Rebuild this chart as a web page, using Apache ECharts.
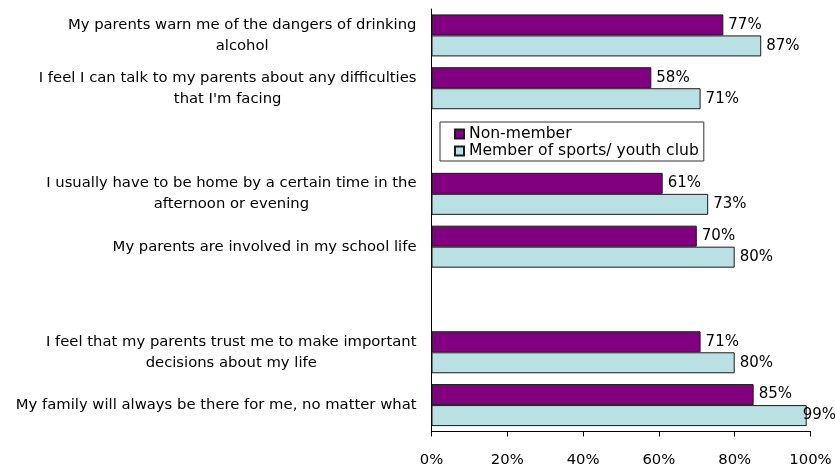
<!DOCTYPE html>
<html>
<head>
<meta charset="utf-8">
<script src="https://cdn.jsdelivr.net/npm/echarts@6/dist/echarts.min.js"></script>
<style>
  html, body { margin: 0; padding: 0; background: #fff; }
  #main { width: 835px; height: 469px; }
</style>
</head>
<body>
<div id="main"></div>
<script>
// statements, top to bottom (blank names are the empty gaps)
const categories = [
  'My parents warn me of the dangers of drinking\nalcohol',
  'I feel I can talk to my parents about any difficulties\nthat I\'m facing',
  ' ',
  'I usually have to be home by a certain time in the\nafternoon or evening',
  'My parents are involved in my school life',
  '  ',
  'I feel that my parents trust me to make important\ndecisions about my life',
  'My family will always be there for me, no matter what'
]
const nonMember = [77, 58, '-', 61, 70, '-', 71, 85]
const member = [87, 71, '-', 73, 80, '-', 80, 99]
const xTicks = [0, 20, 40, 60, 80, 100]

const font = 'DejaVu Sans'

// the 99% label sits pulled back over the bar end
function withLabels(arr) {
  return arr.map((v) => {
    if (v !== '-' && v > 95) {
      return { value: v, label: { offset: [-9, 0] } }
    }
    return v
  })
}

const chart = echarts.init(document.getElementById('main'))

const option = {
  animation: false,
  backgroundColor: '#fff',
  grid: {
    left: 431.5,
    right: 24.5,
    top: 9,
    bottom: 37.5
  },
  legend: {
    orient: 'vertical',
    left: 440,
    top: 122,
    padding: [4, 5, 2, 14],
    itemWidth: 9,
    itemHeight: 9,
    itemGap: 1,
    icon: 'rect',
    borderColor: '#333',
    borderWidth: 1,
    textStyle: { fontFamily: font, fontSize: 15.6, color: '#000', lineHeight: 16 },
    data: ['Non-member', 'Member of sports/ youth club']
  },
  xAxis: {
    type: 'value',
    min: 0,
    max: 100,
    interval: 20,
    splitLine: { show: false },
    axisLine: { show: true, lineStyle: { color: '#000', width: 1 } },
    axisTick: { show: true, length: 5, lineStyle: { color: '#000' } },
    axisLabel: {
      margin: 21,
      fontFamily: font,
      fontSize: 14.8,
      color: '#000',
      formatter: (v) => xTicks.includes(v) ? v + '%' : ''
    }
  },
  yAxis: {
    type: 'category',
    inverse: true,
    data: categories,
    axisLine: { show: true, lineStyle: { color: '#000', width: 1 } },
    axisTick: { show: false },
    axisLabel: {
      margin: 15,
      color: '#000',
      fontFamily: font,
      fontSize: 14.8,
      lineHeight: 21,
      formatter: (v) => v.split('\n').map((s) => '{c|' + s + '}').join('\n'),
      rich: {
        c: { align: 'center', fontFamily: font, fontSize: 14.8, lineHeight: 21, color: '#000' }
      }
    }
  },
  series: [
    {
      name: 'Non-member',
      type: 'bar',
      data: withLabels(nonMember),
      barWidth: 21,
      barGap: '0%',
      itemStyle: { color: '#800080', borderColor: '#1a1a1a', borderWidth: 1 },
      label: {
        show: true,
        position: 'right',
        distance: 5,
        fontFamily: font,
        fontSize: 15,
        color: '#000',
        formatter: '{c}%'
      }
    },
    {
      name: 'Member of sports/ youth club',
      type: 'bar',
      data: withLabels(member),
      barWidth: 21,
      barGap: '0%',
      itemStyle: { color: '#B9E0E3', borderColor: '#1a1a1a', borderWidth: 1 },
      label: {
        show: true,
        position: 'right',
        distance: 5,
        fontFamily: font,
        fontSize: 15,
        color: '#000',
        formatter: '{c}%'
      }
    }
  ]
}

chart.setOption(option)
</script>
</body>
</html>
